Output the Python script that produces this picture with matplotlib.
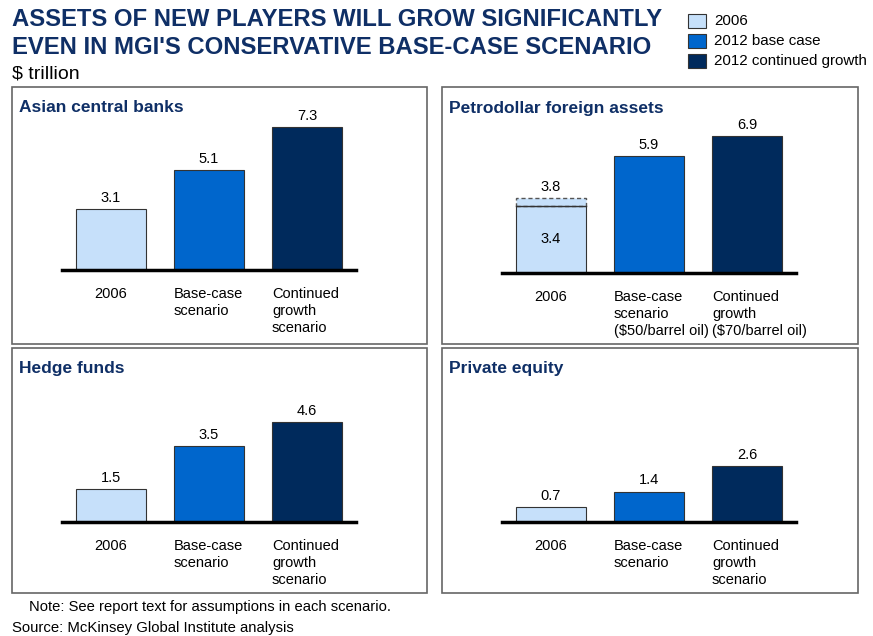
import matplotlib
matplotlib.use("Agg")
import matplotlib.pyplot as plt
from matplotlib.patches import Rectangle

plt.rcParams['font.family'] = ['Liberation Sans', 'DejaVu Sans']

W, H = 873, 636
series = ["2006", "2012 base case", "2012 continued growth"]
colors = ["#C6E0FA", "#0066CC", "#002A5C"]
navy = "#0F2F66"

panel_titles = ["Asian central banks", "Petrodollar foreign assets", "Hedge funds", "Private equity"]
asian_values = [3.1, 5.1, 7.3]
petro_values = [3.4, 5.9, 6.9]
petro_2006_upper = 3.8
hedge_values = [1.5, 3.5, 4.6]
pe_values = [0.7, 1.4, 2.6]

labels_default = ["2006", "Base-case\nscenario", "Continued\ngrowth\nscenario"]
labels_petro = ["2006", "Base-case\nscenario\n($50/barrel oil)", "Continued\ngrowth\n($70/barrel oil)"]

fig = plt.figure(figsize=(W / 100, H / 100), dpi=100)

def fx(px):
    return px / W

def fy(py):
    return 1 - py / H

# panel boxes (pixels: left, top, right, bottom)
boxes = [(12, 87, 427, 344), (442, 87, 858, 344), (12, 348, 427, 593), (442, 348, 858, 593)]
for (l, t, r, b) in boxes:
    fig.patches.append(Rectangle((fx(l), fy(b)), fx(r - l), (b - t) / H,
                                 transform=fig.transFigure, fill=False,
                                 edgecolor="#666666", linewidth=1.2))

# axes configs: left px, baseline px, px per unit, values, labels
configs = [
    (62, 270, 19.6, asian_values, labels_default),
    (502, 273, 19.8, petro_values, labels_petro),
    (62, 522, 21.7, hedge_values, labels_default),
    (502, 522, 21.6, pe_values, labels_default),
]

for i, (lpx, base, ppu, vals, labs) in enumerate(configs):
    ymax = 8.0
    ax = fig.add_axes([fx(lpx), fy(base), fx(294), ppu * ymax / H])
    ax.set_xlim(-0.5, 2.5)
    ax.set_ylim(0, ymax)
    ax.axis("off")
    x = range(3)
    ax.bar(x, vals, width=70 / 98, color=colors, edgecolor="#333333", linewidth=0.8, zorder=2)
    ax.axhline(0, color="black", linewidth=2.5, zorder=3, clip_on=False)
    for xi, v in zip(x, vals):
        if i == 1 and xi == 0:
            continue
        ax.text(xi, v + 0.2, f"{v:.1f}", ha="center", va="bottom", fontsize=10.5)
    if i == 1:
        v0 = vals[0]
        ax.bar(0, petro_2006_upper - v0, bottom=v0, width=70 / 98, color=colors[0],
               edgecolor="#555555", linewidth=1.0, linestyle=(0, (3, 2)), zorder=2)
        ax.plot([-35 / 98, 35 / 98], [v0, v0], color="#333333", linewidth=1.0, zorder=3)
        ax.text(0, v0 / 2, f"{v0:.1f}", ha="center", va="center", fontsize=10.5)
        ax.text(0, petro_2006_upper + 0.2, f"{petro_2006_upper:.1f}", ha="center", va="bottom", fontsize=10.5)
    # category labels
    for xi, lab in zip(x, labs):
        if xi == 0:
            fig.text(fx(lpx + 49), fy(base + 17), lab, ha="center", va="top", fontsize=10.5, linespacing=1.25)
        else:
            fig.text(fx(lpx + 49 + 98 * xi - 35), fy(base + 17), lab, ha="left", va="top", fontsize=10.5, linespacing=1.25)
    l, t, r, b = boxes[i]
    fig.text(fx(l + 7), fy(t + 21), panel_titles[i], ha="left", va="center",
             fontsize=12.5, fontweight="bold", color=navy)

# main title
fig.text(fx(12), fy(20), "ASSETS OF NEW PLAYERS WILL GROW SIGNIFICANTLY", ha="left", va="center",
         fontsize=17.2, fontweight="bold", color=navy)
fig.text(fx(12), fy(47.5), "EVEN IN MGI'S CONSERVATIVE BASE-CASE SCENARIO", ha="left", va="center",
         fontsize=17.2, fontweight="bold", color=navy)
fig.text(fx(12), fy(74), "$ trillion", ha="left", va="center", fontsize=14)

# legend
for k, (name, c) in enumerate(zip(series, colors)):
    yc = 21 + 20 * k
    fig.patches.append(Rectangle((fx(688), fy(yc + 7)), fx(18), 14 / H, transform=fig.transFigure,
                                 facecolor=c, edgecolor="#333333", linewidth=0.8))
    fig.text(fx(714), fy(yc), name, ha="left", va="center", fontsize=10.9)

fig.text(fx(29), fy(607), "Note: See report text for assumptions in each scenario.", ha="left", va="center", fontsize=10.6)
fig.text(fx(12), fy(628), "Source: McKinsey Global Institute analysis", ha="left", va="center", fontsize=10.7)

fig.savefig("out.png", dpi=100)
